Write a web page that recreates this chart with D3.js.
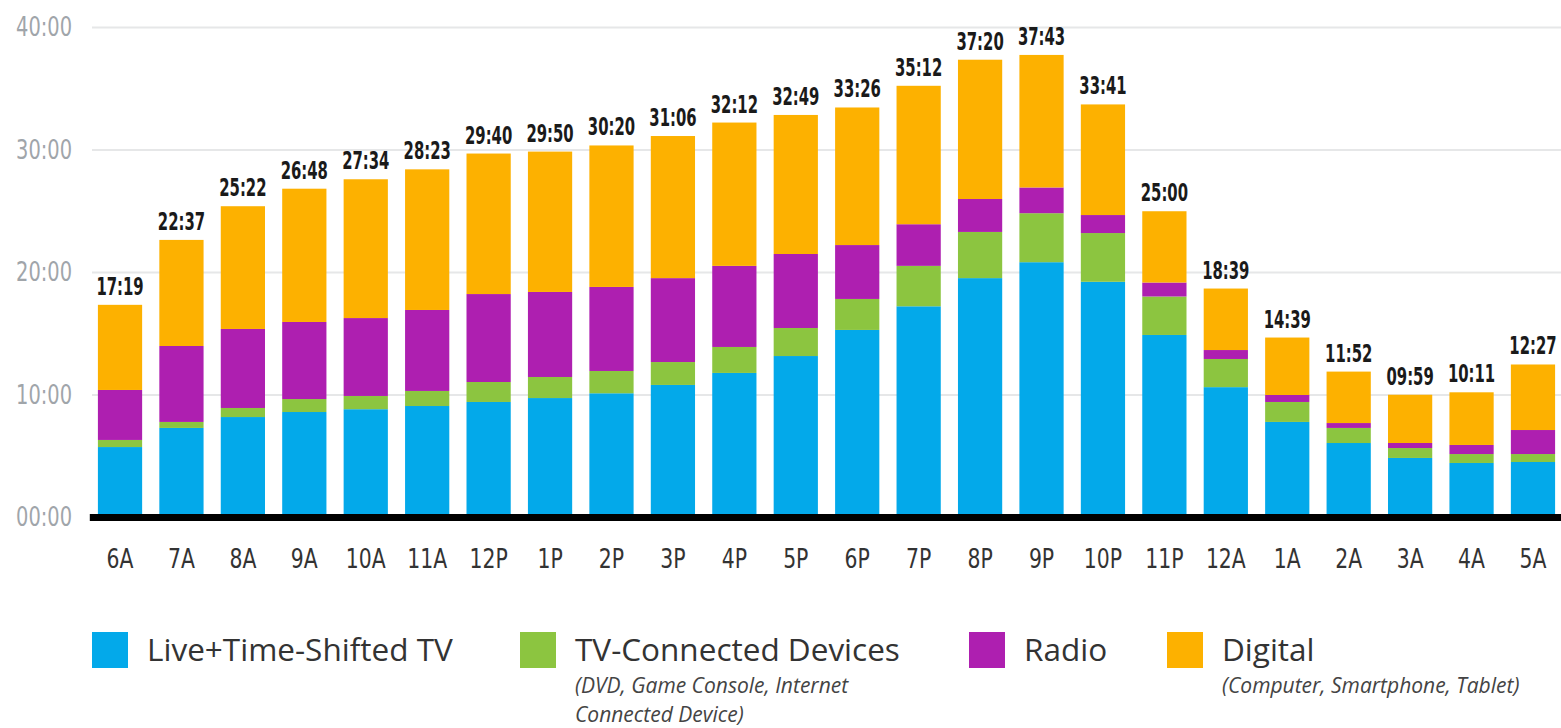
<!DOCTYPE html>
<html>
<head>
<meta charset="utf-8">
<script src="https://cdn.jsdelivr.net/npm/d3@7"></script>
<style>
  body { margin: 0; background: #fff; }
  svg { display: block; }
</style>
</head>
<body>
<div id="chart"></div>
<script>
// hour of day (6 AM through 5 AM)
var hours = ["6A", "7A", "8A", "9A", "10A", "11A", "12P", "1P", "2P", "3P", "4P", "5P",
             "6P", "7P", "8P", "9P", "10P", "11P", "12A", "1A", "2A", "3A", "4A", "5A"];

// minutes per hour
var liveTv    = [5.71, 7.27, 8.16, 8.57, 8.80, 9.06, 9.39, 9.71, 10.10, 10.78, 11.76, 13.14,
                 15.27, 17.20, 19.50, 20.80, 19.20, 14.86, 10.60, 7.76, 6.04, 4.82, 4.41, 4.49];
var tvDevices = [0.58, 0.49, 0.74, 1.06, 1.08, 1.23, 1.63, 1.72, 1.82, 1.87, 2.12, 2.29,
                 2.53, 3.30, 3.77, 4.00, 3.98, 3.14, 2.30, 1.63, 1.23, 0.81, 0.73, 0.65];
var radio     = [4.08, 6.20, 6.45, 6.29, 6.36, 6.61, 7.18, 6.94, 6.86, 6.85, 6.62, 6.04,
                 4.40, 3.40, 2.69, 2.10, 1.47, 1.14, 0.73, 0.57, 0.40, 0.41, 0.74, 1.96];
var digital   = [6.95, 8.66, 10.02, 10.88, 11.33, 11.48, 11.47, 11.46, 11.55, 11.60, 11.70, 11.35,
                 11.23, 11.30, 11.37, 10.82, 9.03, 5.82, 5.02, 4.69, 4.20, 3.94, 4.30, 5.35];

var totalLabels = ["17:19", "22:37", "25:22", "26:48", "27:34", "28:23", "29:40", "29:50",
                   "30:20", "31:06", "32:12", "32:49", "33:26", "35:12", "37:20", "37:43",
                   "33:41", "25:00", "18:39", "14:39", "11:52", "09:59", "10:11", "12:27"];

var yTicks = [0, 10, 20, 30, 40];

var seriesKeys = ["live", "devices", "radio", "digital"];
var seriesNames = ["Live+Time-Shifted TV", "TV-Connected Devices", "Radio", "Digital"];
var seriesNotes = [[], ["(DVD, Game Console, Internet", "Connected Device)"], [], ["(Computer, Smartphone, Tablet)"]];
var seriesColors = ["#03a9ea", "#8cc540", "#ae1fb0", "#fdb100"];

var svgWidth = 1561;
var svgHeight = 728;

var svg = d3.select("#chart")
    .append("svg")
    .attr("width", svgWidth)
    .attr("height", svgHeight);

var narrow = "'DejaVu Sans Condensed', 'Liberation Sans Narrow', sans-serif";

// table for the stack
var rows = hours.map(function (h, i) {
    return { hour: h, live: liveTv[i], devices: tvDevices[i], radio: radio[i], digital: digital[i], label: totalLabels[i] };
});

var x = d3.scaleBand()
    .domain(hours)
    .range([89.3, 1563.7])
    .paddingInner(0.28)
    .paddingOuter(0.14);

var y = d3.scaleLinear()
    .domain([0, 40])
    .range([517, 27]);

var color = d3.scaleOrdinal().domain(seriesKeys).range(seriesColors);

// gridlines + y labels
var yAxis = svg.append("g")
    .attr("transform", "translate(92,0)")
    .call(d3.axisLeft(y)
        .tickValues(yTicks)
        .tickSize(-(svgWidth - 92))
        .tickPadding(20)
        .tickFormat(function (d) { return d3.format("02")(d) + ":00"; }));

yAxis.select(".domain").remove();
yAxis.selectAll(".tick line")
    .attr("stroke", "#e6e7e8")
    .attr("stroke-width", 2);
yAxis.selectAll(".tick text")
    .attr("x", 0)
    .attr("transform", "translate(-20,0) scale(0.8,1)")
    .attr("font-family", narrow)
    .attr("font-size", "27px")
    .attr("fill", "#a0a5aa");

// stacked bars
var stacked = d3.stack().keys(seriesKeys)(rows);

svg.append("g")
    .selectAll("g")
    .data(stacked)
    .enter()
    .append("g")
    .attr("fill", function (d) { return color(d.key); })
    .selectAll("rect")
    .data(function (d) { return d; })
    .enter()
    .append("rect")
    .attr("x", function (d) { return x(d.data.hour); })
    .attr("y", function (d) { return y(d[1]); })
    .attr("width", x.bandwidth())
    .attr("height", function (d) { return y(d[0]) - y(d[1]); });

// totals over bars
var topLayer = stacked[stacked.length - 1];
svg.append("g")
    .selectAll("text")
    .data(topLayer)
    .enter()
    .append("text")
    .attr("transform", function (d) {
        return "translate(" + (x(d.data.hour) + x.bandwidth() / 2) + "," + (y(d[1]) - 10) + ") scale(0.66,1)";
    })
    .attr("text-anchor", "middle")
    .attr("font-family", narrow)
    .attr("font-weight", "bold")
    .attr("font-size", "25px")
    .attr("fill", "#1a1a1a")
    .text(function (d) { return d.data.label; });

// x axis
var xAxis = svg.append("g")
    .attr("transform", "translate(0,517)")
    .call(d3.axisBottom(x).tickSize(0).tickSizeOuter(0));

xAxis.select(".domain")
    .attr("stroke", "#000")
    .attr("stroke-width", 7);
xAxis.selectAll(".tick text")
    .attr("y", 0)
    .attr("dy", 0)
    .attr("transform", "translate(0,51) scale(0.84,1)")
    .attr("font-family", narrow)
    .attr("font-size", "27px")
    .attr("fill", "#333");

// legend
var legendX = [92, 520, 969, 1167];
var legend = svg.append("g")
    .selectAll("g")
    .data(seriesKeys)
    .enter()
    .append("g")
    .attr("transform", function (d, i) { return "translate(" + legendX[i] + ",632)"; });

legend.append("rect")
    .attr("width", 36)
    .attr("height", 36)
    .attr("fill", function (d) { return color(d); });

legend.append("text")
    .attr("x", 55)
    .attr("y", 29)
    .attr("font-family", "'Open Sans', sans-serif")
    .attr("font-size", "31.5px")
    .attr("fill", "#333")
    .text(function (d, i) { return seriesNames[i]; });

// italic notes under a label, one line each
legend.each(function (d, i) {
    d3.select(this).selectAll("text.note")
        .data(seriesNotes[i])
        .enter()
        .append("text")
        .attr("class", "note")
        .attr("x", 55)
        .attr("y", function (n, j) { return 61 + j * 29; })
        .attr("font-family", "'Open Sans', sans-serif")
        .attr("font-style", "italic")
        .attr("font-size", "21px")
        .attr("fill", "#444")
        .text(function (n) { return n; });
});
</script>
</body>
</html>
